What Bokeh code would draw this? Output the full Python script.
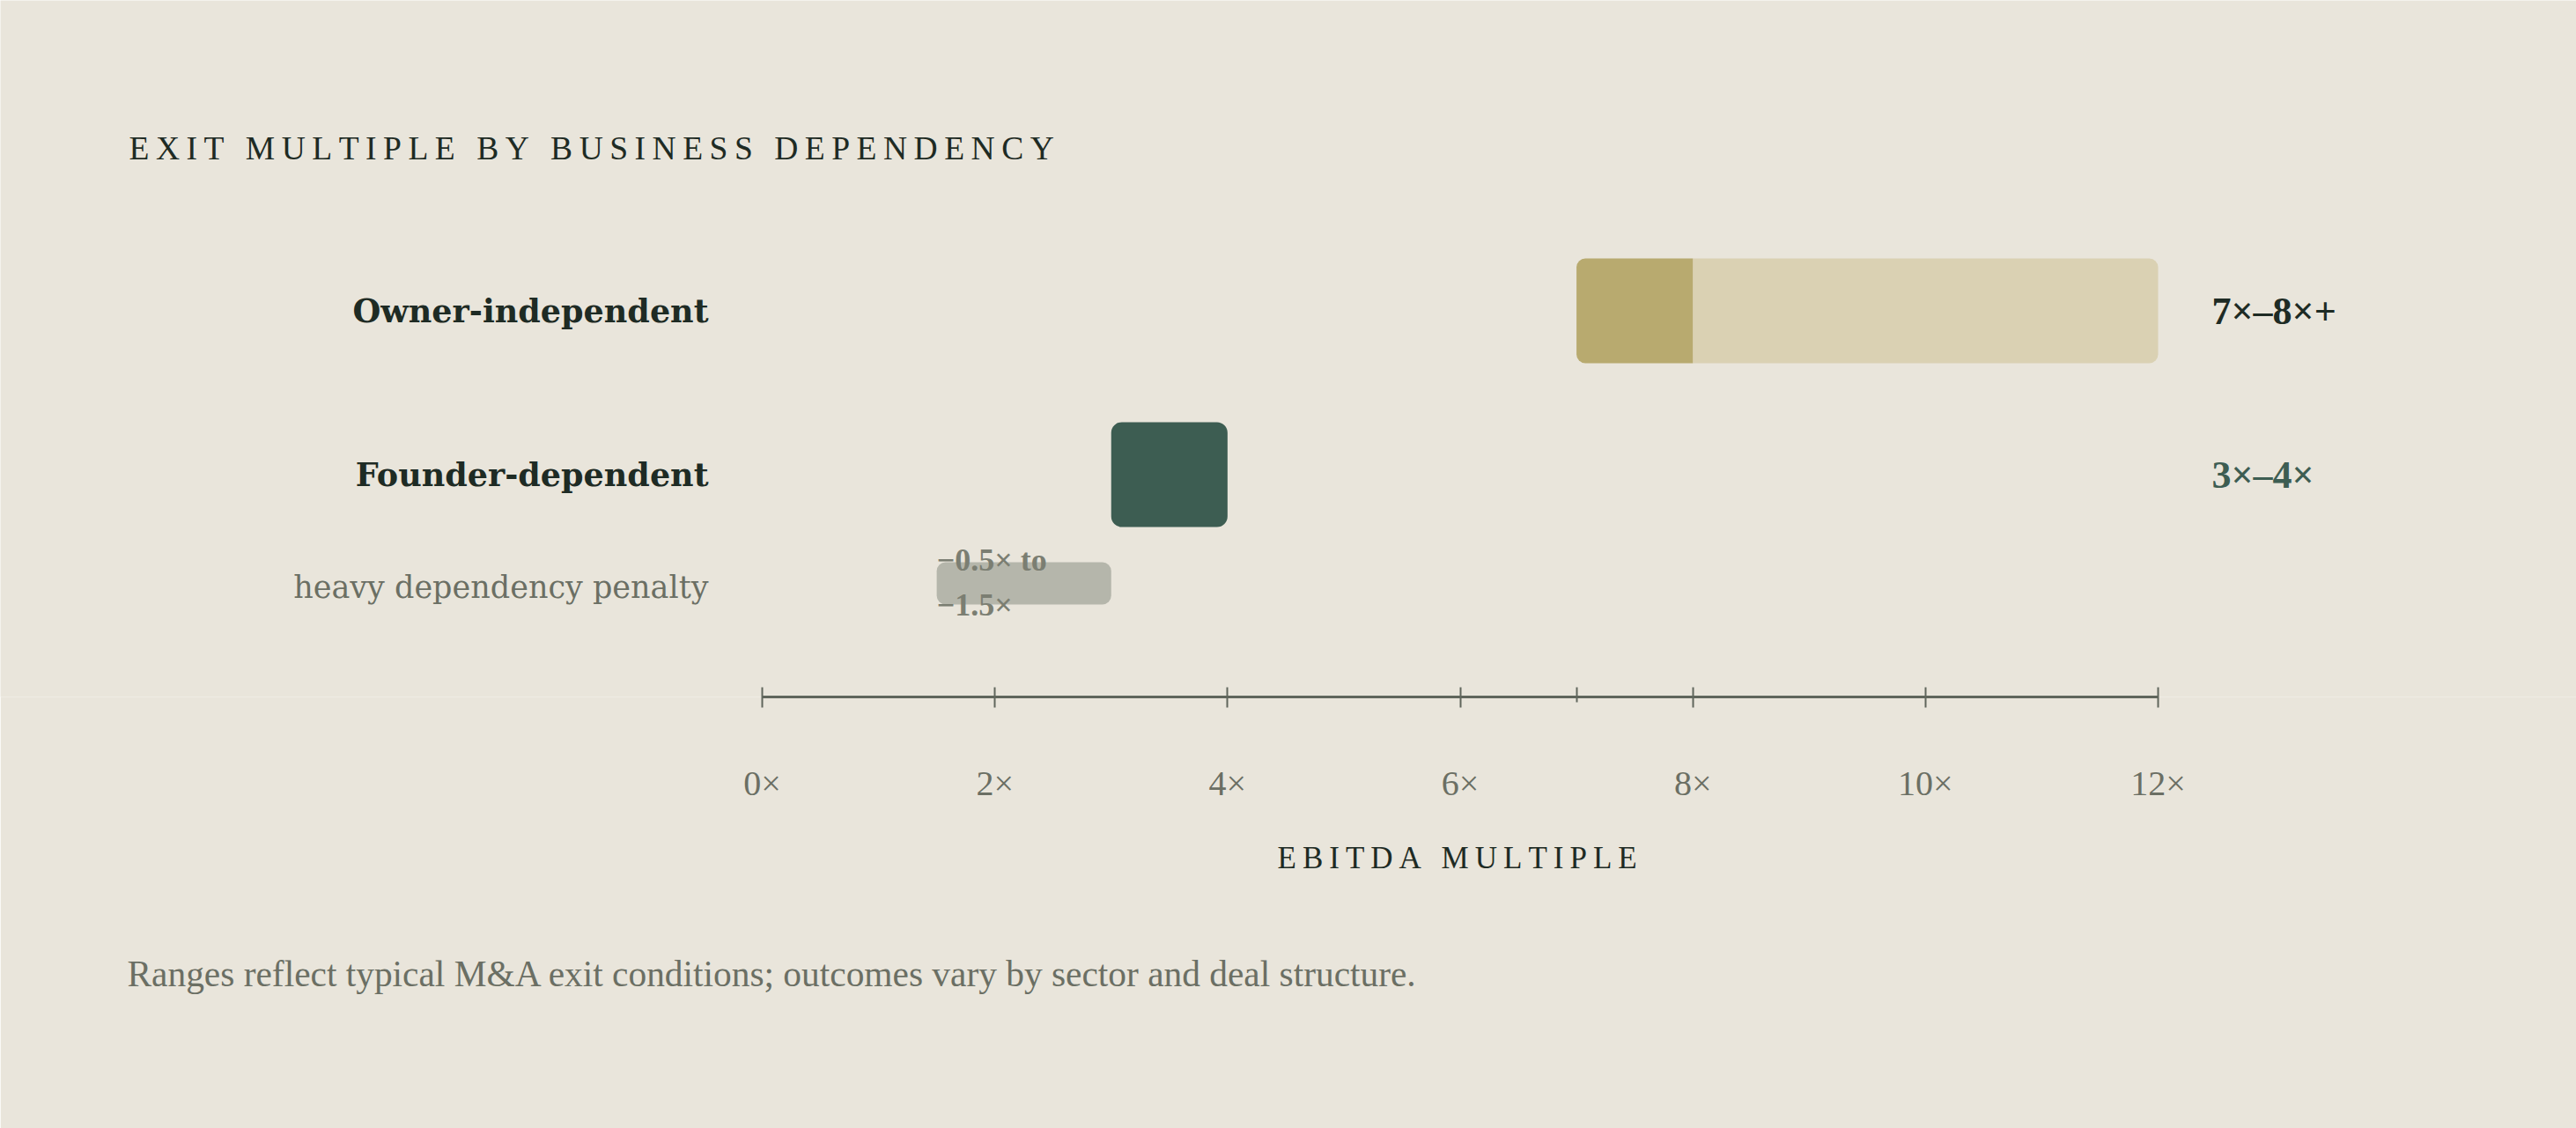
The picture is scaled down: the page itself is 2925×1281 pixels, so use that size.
from bokeh.plotting import figure
from bokeh.models import Range1d, FixedTicker, Label, Title
from bokeh.embed import file_html
from bokeh.resources import INLINE

# ---------------- data ----------------
categories = ["Owner-independent", "Founder-dependent"]
core_low = [7, 3]
core_high = [8, 4]
upside_high = 12            # owner-independent upside reaches 12×
value_labels = ["7×–8×+", "3×–4×"]
penalty_name = "heavy dependency penalty"
penalty_low = 1.5
penalty_high = 3.0
penalty_label = "−0.5× to\n−1.5×"
tick_values = [0, 2, 4, 6, 8, 10, 12]
tick_labels = ["0×", "2×", "4×", "6×", "8×", "10×", "12×"]
marker_ticks = [7]
title_text = "EXIT MULTIPLE BY BUSINESS DEPENDENCY"
axis_title = "EBITDA MULTIPLE"
footnote = "Ranges reflect typical M&A exit conditions; outcomes vary by sector and deal structure."

# ---------------- style ----------------
BG = "#e9e5db"
DARK = "#1e2b24"
GRAY = "#6b6f64"
AXIS = "#60665c"
OLIVE_DARK = "#b8aa6f"
OLIVE_LIGHT = "#dad1b3"
GREEN = "#3d5d52"
GRAYBAR = "#b5b6ab"
PEN_TXT = "#7b7e72"
FONT = "Liberation Serif"
LABEL_FONT = "DejaVu Serif"

W, H = 2925, 1281
AXIS_LEFT_PX = 865             # where 0× sits
AXIS_RIGHT_PX = 2450           # where 12× sits
FRAME_H = 791                  # axis line position from top
ROW_PX = 186.0
Y0 = 352.5                     # first row centre, px from top
PX_PER_X = (AXIS_RIGHT_PX - AXIS_LEFT_PX) / (tick_values[-1] - tick_values[0])


def px_x(px):
    return tick_values[0] + (px - AXIS_LEFT_PX) / PX_PER_X


def px_y(px):
    return (px - Y0) / ROW_PX


def spaced(s):
    return "\u2009".join(s)


row_y = [0.0, 1.0]
penalty_y = px_y(662)

p = figure(
    width=W, height=H,
    x_range=Range1d(px_x(0), px_x(W)),
    y_range=Range1d(start=px_y(FRAME_H), end=px_y(0)),
    min_border_left=0, min_border_right=0,
    min_border_top=0, min_border_bottom=H - FRAME_H,
    toolbar_location=None, output_backend="svg",
    y_axis_location=None,
    background_fill_color=BG, border_fill_color=BG,
    outline_line_color=None,
)
p.xgrid.visible = False
p.ygrid.visible = False

ax = p.xaxis[0]
ax.bounds = (tick_values[0], tick_values[-1])
ax.ticker = FixedTicker(ticks=tick_values, minor_ticks=marker_ticks)
ax.major_label_overrides = {v: l for v, l in zip(tick_values, tick_labels)}
ax.axis_line_color = AXIS
ax.axis_line_width = 3
ax.major_tick_line_color = AXIS
ax.major_tick_line_width = 2
ax.major_tick_in = 11
ax.major_tick_out = 12
ax.minor_tick_line_color = AXIS
ax.minor_tick_line_width = 2
ax.minor_tick_in = 11
ax.minor_tick_out = 6
ax.major_label_text_font = FONT
ax.major_label_text_font_size = "40px"
ax.major_label_text_color = GRAY
ax.major_label_standoff = 63

# ---------------- bars ----------------
BAR_H = 119 / ROW_PX
PEN_H = 48 / ROW_PX

p.hbar(y=[row_y[0]], left=[core_high[0]], right=[upside_high], height=BAR_H,
       fill_color=OLIVE_LIGHT, line_color=None, border_radius=(0, 10, 10, 0))
p.hbar(y=[row_y[0]], left=[core_low[0]], right=[core_high[0]], height=BAR_H,
       fill_color=OLIVE_DARK, line_color=None, border_radius=(10, 0, 0, 10))
p.hbar(y=[row_y[1]], left=[core_low[1]], right=[core_high[1]], height=BAR_H,
       fill_color=GREEN, line_color=None, border_radius=12)
p.hbar(y=[penalty_y], left=[penalty_low], right=[penalty_high], height=PEN_H,
       fill_color=GRAYBAR, line_color=None, border_radius=10)

# ---------------- labels ----------------
for i, name in enumerate(categories):
    p.add_layout(Label(x=tick_values[0], y=row_y[i], x_offset=-61, text=name,
                       text_align="right", text_baseline="middle",
                       text_font=LABEL_FONT, text_font_style="bold",
                       text_font_size="36.5px", text_color=DARK))
    p.add_layout(Label(x=upside_high, y=row_y[i], x_offset=61, text=value_labels[i],
                       text_align="left", text_baseline="middle",
                       text_font=FONT, text_font_style="bold",
                       text_font_size="44px",
                       text_color=[DARK, GREEN][i]))

p.add_layout(Label(x=tick_values[0], y=px_y(666), x_offset=-61,
                   text=penalty_name, text_align="right", text_baseline="middle",
                   text_font=LABEL_FONT, text_font_size="35px", text_color=GRAY))
p.add_layout(Label(x=penalty_low, y=px_y(661), text=penalty_label,
                   text_align="left", text_baseline="middle",
                   text_font=FONT, text_font_style="bold",
                   text_font_size="36px", text_line_height=1.28,
                   text_color=PEN_TXT))

p.add_layout(Label(x=px_x(146), y=px_y(168), text=spaced(title_text),
                   text_align="left", text_baseline="middle",
                   text_font=FONT, text_font_size="37.5px", text_color=DARK))

# axis title (centred under the 0×–12× span) and footnote, stacked below the axis
p.add_layout(Title(text=spaced(axis_title), align="left", offset=1450,
                   vertical_align="top", standoff=80,
                   text_font=FONT, text_font_size="35px",
                   text_font_style="normal", text_color=DARK), "below")
p.add_layout(Title(text=footnote, align="left", offset=144,
                   vertical_align="top", standoff=94,
                   text_font=FONT, text_font_size="41.4px",
                   text_font_style="normal", text_color=GRAY), "below")

open("out.html", "w").write(file_html(p, INLINE))
